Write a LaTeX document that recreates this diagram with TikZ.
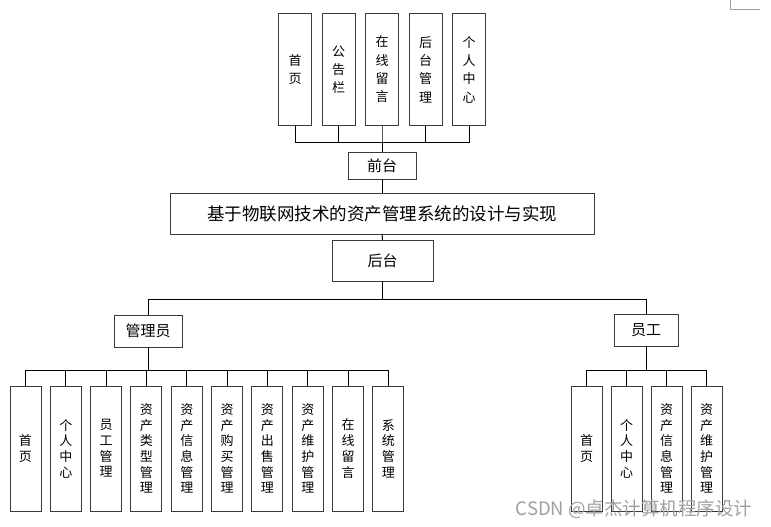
\documentclass[tikz,border=0pt]{standalone}
\usepackage{fontspec}
\usetikzlibrary{positioning}
\setmainfont{Noto Sans CJK SC}
\definecolor{fgline}{HTML}{3A3A3A}
\definecolor{wmgray}{HTML}{A0A0A0}

\begin{document}
\begin{tikzpicture}[x=1pt,y=-1pt,
      box/.style={draw=fgline,line width=1pt,inner sep=0pt,outer sep=0pt,align=center,font=\fontsize{15}{18}\selectfont},
      topbox/.style={box,minimum width=33pt,minimum height=112pt,font=\fontsize{13}{18.3}\selectfont},
      leaf/.style={box,minimum width=31pt,minimum height=125pt,font=\fontsize{13}{15.7}\selectfont},
      bus/.style={draw=black,line width=1pt}]
    \useasboundingbox (0,0) rectangle (771,527);
    \node[topbox] (home) at (295,69.5) {首\\页};
    \node[topbox,right=10.5pt of home] (notice) {公\\告\\栏};
    \node[topbox,right=10.5pt of notice] (board) {在\\线\\留\\言};
    \node[topbox,right=10.5pt of board] (backmgr) {后\\台\\管\\理};
    \node[topbox,right=10.5pt of backmgr] (mine) {个\\人\\中\\心};
    \node[box,minimum width=68pt,minimum height=27pt] (front) at (382,165.5) {前台};
    \node[box,minimum width=424pt,minimum height=41pt,font=\fontsize{17.5}{20}\selectfont] (title) at (382,213.5)
      {基于物联网技术的资产管理系统的设计与实现};
    \node[box,minimum width=101pt,minimum height=41pt] (back) at (382.5,260.5) {后台};
    \node[box,minimum width=68pt,minimum height=32pt] (admin) at (148,331) {管理员};
    \node[box,minimum width=64pt,minimum height=32pt] (staff) at (646,330) {员工};
    \node[leaf] (a1) at (25.5,448.5) {首\\页};
    \node[leaf,right=9.33pt of a1] (a2) {个\\人\\中\\心};
    \node[leaf,right=9.33pt of a2] (a3) {员\\工\\管\\理};
    \node[leaf,right=9.33pt of a3] (a4) {资\\产\\类\\型\\管\\理};
    \node[leaf,right=9.33pt of a4] (a5) {资\\产\\信\\息\\管\\理};
    \node[leaf,right=9.33pt of a5] (a6) {资\\产\\购\\买\\管\\理};
    \node[leaf,right=9.33pt of a6] (a7) {资\\产\\出\\售\\管\\理};
    \node[leaf,right=9.33pt of a7] (a8) {资\\产\\维\\护\\管\\理};
    \node[leaf,right=9.33pt of a8] (a9) {在\\线\\留\\言};
    \node[leaf,right=9.33pt of a9] (a10) {系\\统\\管\\理};
    \node[leaf] (s1) at (586.5,448.5) {首\\页};
    \node[leaf,right=9pt of s1] (s2) {个\\人\\中\\心};
    \node[leaf,right=9pt of s2] (s3) {资\\产\\信\\息\\管\\理};
    \node[leaf,right=9pt of s3] (s4) {资\\产\\维\\护\\管\\理};
    \draw[bus] (home.south) -- ++(0,16.5) -| (front.north);
    \draw[bus] (notice.south) -- ++(0,16.5) -| (front.north);
    \draw[bus] (board.south) -- ++(0,16.5) -| (front.north);
    \draw[bus] (backmgr.south) -- ++(0,16.5) -| (front.north);
    \draw[bus] (mine.south) -- ++(0,16.5) -| (front.north);
    \draw[bus] (front) -- (title);
    \draw[bus] (title) -- (back);
    \draw[bus] (back.south) -- ++(0,18) -| (admin.north);
    \draw[bus] (back.south) -- ++(0,18) -| (staff.north);
    \draw[bus] (admin.south) -- ++(0,23) -| (a1.north);
    \draw[bus] (admin.south) -- ++(0,23) -| (a2.north);
    \draw[bus] (admin.south) -- ++(0,23) -| (a3.north);
    \draw[bus] (admin.south) -- ++(0,23) -| (a4.north);
    \draw[bus] (admin.south) -- ++(0,23) -| (a5.north);
    \draw[bus] (admin.south) -- ++(0,23) -| (a6.north);
    \draw[bus] (admin.south) -- ++(0,23) -| (a7.north);
    \draw[bus] (admin.south) -- ++(0,23) -| (a8.north);
    \draw[bus] (admin.south) -- ++(0,23) -| (a9.north);
    \draw[bus] (admin.south) -- ++(0,23) -| (a10.north);
    \draw[bus] (staff.south) -- ++(0,24) -| (s1.north);
    \draw[bus] (staff.south) -- ++(0,24) -| (s2.north);
    \draw[bus] (staff.south) -- ++(0,24) -| (s3.north);
    \draw[bus] (staff.south) -- ++(0,24) -| (s4.north);
    % page corner mark and watermark
    \draw[wmgray,line width=0.8pt] (730,0) -- (730,9) -- (760,9);
    \node[font=\fontsize{18.5}{18.5}\selectfont,text=wmgray,anchor=east] (wm) at (756,509) {CSDN @卓杰计算机程序设计};
  \end{tikzpicture}
\end{document}
